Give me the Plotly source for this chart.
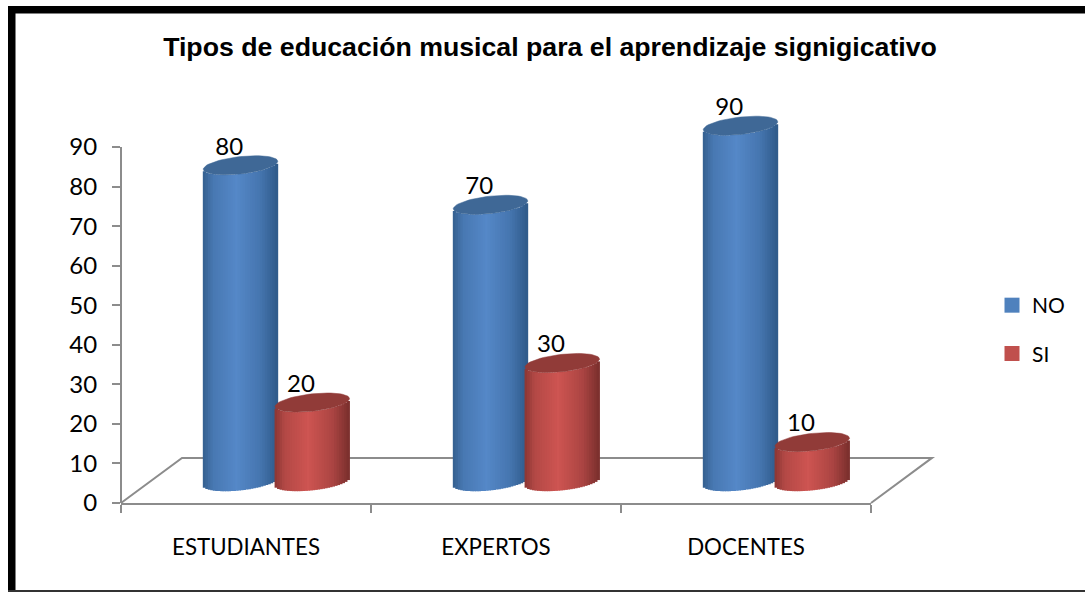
import numpy as np
import plotly.graph_objects as go

categories = ["ESTUDIANTES", "EXPERTOS", "DOCENTES"]
no_values = [80, 70, 90]
si_values = [20, 30, 10]
y_ticks = [0, 10, 20, 30, 40, 50, 60, 70, 80, 90]
title_text = "Tipos de educación musical para el aprendizaje signigicativo"

W, H = 1085, 592
L, R, B = 121, 871, 503
PX_PER_UNIT = 39.55 / 10
XMAX, YMAX, YAXIS_TOP = 3, 110, 90   # range runs past 90 so tall cylinders and labels are kept
T = B - YMAX * PX_PER_UNIT
GRAY = "#8c8c8c"

# pseudo-3D geometry, in axis units
BAR_W = 0.298
OFFS = {"NO": 0.478, "SI": 0.765}
BASE = 5.4
ELL_B = 2.2
ELL_TILT = 1.0
STRIPS = 30
DEPTH_X, DEPTH_Y = 0.244, 11.4


def hex2rgb(h):
    return np.array([int(h[i:i + 2], 16) for i in (1, 3, 5)], float)


def shade(u, left, mid, right):
    stops_u = [-1, -0.72, -0.1, 0.55, 1]
    a, m, b = hex2rgb(left), hex2rgb(mid), hex2rgb(right)
    stops = [a, a + (m - a) * 0.62, m, m + (b - m) * 0.4, b]
    c = [np.interp(u, stops_u, [s[i] for s in stops]) for i in range(3)]
    return "rgb(%d,%d,%d)" % tuple(c)


def cylinder(values, off, palette, cap_color):
    xs, bases, heights, colors = [], [], [], []
    cx_all, cy_all = [], []
    edges = np.linspace(-1, 1, STRIPS + 1)
    mids = (edges[:-1] + edges[1:]) / 2
    a = BAR_W / 2
    for i, v in enumerate(values):
        cx = i + off
        for u in mids:
            front = ELL_B * np.sqrt(1 - u * u) - ELL_TILT * u
            xs.append(cx + a * u)
            bases.append(BASE - front)
            heights.append(v)
            colors.append(shade(u, *palette))
        t = np.linspace(0, 2 * np.pi, 61)
        cx_all += list(cx + a * np.cos(t)) + [None]
        cy_all += list(BASE + v + ELL_B * np.sin(t) + ELL_TILT * np.cos(t)) + [None]
    body = go.Bar(x=xs, y=heights, base=bases, width=BAR_W / STRIPS * 1.35,
                  marker=dict(color=colors, line=dict(width=0)),
                  cliponaxis=False, showlegend=False, hoverinfo="skip")
    cap = go.Scatter(x=cx_all, y=cy_all, mode="lines", fill="toself", fillcolor=cap_color,
                     line=dict(color=cap_color, width=0.5), cliponaxis=False,
                     showlegend=False, hoverinfo="skip")
    return body, cap


fig = go.Figure()
b1, c1 = cylinder(no_values, OFFS["NO"], ("#34608f", "#5588c8", "#2f5a8a"), "#3f6896")
b2, c2 = cylinder(si_values, OFFS["SI"], ("#8a3633", "#ce5552", "#7a2f2d"), "#913b38")
fig.add_traces([b1, b2, c1, c2])

# value labels
for vals, off in ((no_values, OFFS["NO"]), (si_values, OFFS["SI"])):
    fig.add_trace(go.Scatter(
        x=[i + off - 0.045 for i in range(len(vals))],
        y=[BASE + v + 4.2 for v in vals],
        mode="text", text=[str(v) for v in vals], textposition="middle center",
        textfont=dict(family="Lato", size=24, color="#000"),
        cliponaxis=False, showlegend=False, hoverinfo="skip"))

# legend entries
for name, col in (("NO", "#4f81bd"), ("SI", "#c0504d")):
    fig.add_trace(go.Scatter(x=[None], y=[None], mode="markers", name=name, legendgroup=name,
                             marker=dict(symbol="square", size=15, color=col)))


def fx(u):
    return u / XMAX


def fy(v):
    return v / YMAX


def px(x):
    return (x - L) / (R - L)


def py(y):
    return (B - y) / (B - T)


shapes = [
    # floor
    dict(type="path", xref="paper", yref="paper", layer="below",
         path=f"M {fx(0)} {fy(0)} L {fx(DEPTH_X)} {fy(DEPTH_Y)} L {fx(XMAX + DEPTH_X)} {fy(DEPTH_Y)} L {fx(XMAX)} {fy(0)}",
         line=dict(color=GRAY, width=2)),
    # value axis line, stops at the last tick
    dict(type="line", xref="paper", yref="paper", layer="below", x0=0, x1=0, y0=0, y1=fy(YAXIS_TOP),
         line=dict(color=GRAY, width=2)),
    # outer frame
    dict(type="rect", xref="paper", yref="paper", x0=px(8), x1=px(1086), y0=py(6), y1=py(13.5),
         fillcolor="#000", line=dict(width=0), layer="above"),
    dict(type="rect", xref="paper", yref="paper", x0=px(8), x1=px(15.5), y0=py(6), y1=py(593),
         fillcolor="#000", line=dict(width=0), layer="above"),
    dict(type="rect", xref="paper", yref="paper", x0=px(8), x1=px(1086), y0=py(590), y1=py(592),
         fillcolor="#333", line=dict(width=0), layer="above"),
]

fig.update_layout(
    width=W, height=H,
    margin=dict(l=L, r=W - R, t=T, b=H - B, pad=0),
    paper_bgcolor="white", plot_bgcolor="white",
    barmode="overlay",
    shapes=shapes,
    title=dict(text=f"<b>{title_text}</b>", x=550 / W, xanchor="center", y=1 - 47 / H, yanchor="middle",
               font=dict(family="Liberation Sans", size=26.7, color="#000")),
    legend=dict(x=px(992), y=py(285), xanchor="left", yanchor="top", tracegroupgap=18,
                font=dict(family="Lato", size=21, color="#000"), bgcolor="rgba(0,0,0,0)"),
    xaxis=dict(range=[0, XMAX], tickmode="array", tickvals=[i + 0.5 for i in range(3)], ticktext=categories,
               ticks="", showgrid=False, zeroline=False, showline=True, linecolor=GRAY, linewidth=2,
               tickfont=dict(family="Lato", size=22.3, color="#000"), ticklabelstandoff=23,
               minor=dict(tickvals=[0, 1, 2, 3], ticks="outside", ticklen=8, tickwidth=2, tickcolor=GRAY)),
    yaxis=dict(range=[0, YMAX], tickmode="array", tickvals=y_ticks, ticks="outside", ticklen=8, tickwidth=2,
               tickcolor=GRAY, showgrid=False, zeroline=False, showline=False,
               tickfont=dict(family="Lato", size=24, color="#000"), ticklabelstandoff=10),
)

fig.write_html("out.html", config={"displayModeBar": False},
               post_script="document.body.style.margin='0';document.documentElement.style.overflow='hidden';")
